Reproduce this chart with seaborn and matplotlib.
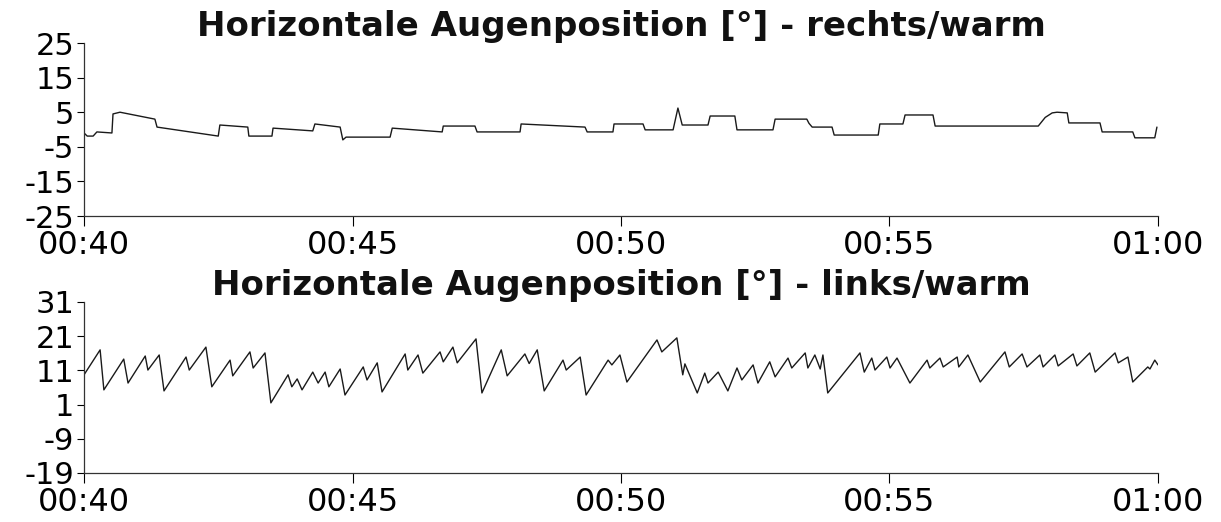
import matplotlib
matplotlib.use("Agg")
import matplotlib.pyplot as plt
import seaborn as sns
import pandas as pd

# ---- data (minutes after 00:40, degrees) ----
right_t = [0.00, 0.06, 0.17, 0.24, 0.52, 0.54, 0.67, 1.32, 1.36, 2.50, 2.53, 3.05, 3.07, 3.50,
           3.52, 4.26, 4.30, 4.77, 4.82, 4.88, 5.70, 5.74, 6.67, 6.69, 7.28, 7.32, 8.12, 8.14,
           9.33, 9.37, 9.85, 9.87, 10.41, 10.45, 10.97, 11.06, 11.14, 11.62, 11.66, 12.12, 12.16,
           12.83, 12.87, 13.46, 13.50, 13.56, 13.93, 13.97, 14.79, 14.82, 15.25, 15.29, 15.81,
           15.85, 17.77, 17.90, 18.03, 18.12, 18.31, 18.34, 18.92, 18.96, 19.53, 19.57, 19.94, 19.98]
right_v = [-1.0, -1.9, -1.9, -0.7, -1.0, 4.5, 5.0, 3.0, 0.7, -1.9, 1.3, 0.7, -1.9, -1.9,
           0.4, -0.4, 1.6, 0.7, -3.0, -2.2, -2.2, 0.4, -0.7, 1.0, 1.0, -0.7, -0.7, 1.6,
           0.7, -0.7, -0.7, 1.6, 1.6, -0.1, -0.1, 6.2, 1.3, 1.3, 3.9, 3.9, -0.1,
           -0.1, 3.0, 3.0, 1.8, 0.7, 0.7, -1.6, -1.6, 1.6, 1.6, 4.2, 4.2,
           1.0, 1.0, 3.5, 4.8, 5.0, 4.8, 1.9, 1.9, -0.7, -0.7, -2.4, -2.4, 0.7]

left_t = [0.00, 0.30, 0.37, 0.74, 0.82, 1.14, 1.19, 1.40, 1.49, 1.90, 1.96, 2.27, 2.38, 2.72,
          2.77, 3.09, 3.15, 3.37, 3.48, 3.80, 3.87, 3.97, 4.06, 4.26, 4.36, 4.49, 4.56, 4.77,
          4.86, 5.20, 5.27, 5.46, 5.55, 5.98, 6.03, 6.22, 6.31, 6.63, 6.69, 6.87, 6.95, 7.30,
          7.41, 7.77, 7.88, 8.21, 8.29, 8.44, 8.57, 8.92, 8.98, 9.24, 9.35, 9.76, 9.83, 9.98,
          10.11, 10.67, 10.76, 11.04, 11.15, 11.19, 11.42, 11.56, 11.62, 11.81, 11.99, 12.16,
          12.25, 12.46, 12.55, 12.77, 12.87, 13.11, 13.18, 13.43, 13.48, 13.61, 13.71, 13.76,
          13.85, 14.45, 14.53, 14.67, 14.73, 14.95, 15.01, 15.14, 15.38, 15.70, 15.75, 15.94,
          16.00, 16.26, 16.29, 16.46, 16.69, 17.15, 17.23, 17.47, 17.56, 17.80, 17.86, 18.08,
          18.14, 18.42, 18.49, 18.73, 18.83, 19.20, 19.26, 19.44, 19.53, 19.81, 19.85, 19.94, 20.00]
left_v = [9.7, 17.0, 5.3, 14.3, 7.3, 15.2, 11.1, 15.5, 5.0, 14.9, 11.1, 17.8, 6.2, 14.0,
          9.4, 16.4, 11.7, 16.1, 1.5, 9.7, 6.2, 8.5, 5.3, 10.5, 7.3, 10.5, 6.2, 11.4,
          3.8, 12.0, 8.2, 13.2, 4.7, 15.8, 11.1, 15.5, 10.2, 16.4, 13.5, 17.8, 13.2, 20.2,
          4.4, 17.0, 9.4, 15.8, 13.0, 17.0, 5.0, 14.0, 11.1, 14.9, 3.8, 14.0, 12.6, 15.5,
          7.6, 19.9, 16.4, 20.5, 9.7, 12.9, 4.4, 10.2, 7.3, 10.5, 5.0, 11.7,
          8.2, 12.6, 7.3, 13.5, 9.1, 14.6, 11.7, 16.1, 11.7, 15.5, 11.4, 15.5,
          4.4, 16.1, 10.5, 14.6, 11.1, 14.9, 11.7, 14.6, 7.3, 14.0, 11.7, 14.6,
          12.0, 14.9, 12.0, 15.5, 7.6, 16.4, 12.0, 15.8, 12.0, 15.5, 12.0, 15.5,
          12.3, 15.8, 12.3, 16.1, 10.5, 16.1, 13.2, 14.9, 7.6, 12.0, 11.4, 14.0, 12.6]

x_ticks = [40, 45, 50, 55, 60]
x_labels = ["00:40", "00:45", "00:50", "00:55", "01:00"]
right_yticks = [-25, -15, -5, 5, 15, 25]
left_yticks = [-19, -9, 1, 11, 21, 31]
titles = ["Horizontale Augenposition [°] - rechts/warm",
          "Horizontale Augenposition [°] - links/warm"]

sns.set_style("ticks")
plt.rcParams["font.family"] = ["DejaVu Sans"]
plt.rcParams["axes.unicode_minus"] = False

fig = plt.figure(figsize=(12.21, 5.22), dpi=100)
ax1 = fig.add_axes([0.0688, 0.5862, 0.8796, 0.3314])
ax2 = fig.add_axes([0.0688, 0.0939, 0.8796, 0.3276])

panels = [
    (ax1, right_t, right_v, right_yticks, titles[0]),
    (ax2, left_t, left_v, left_yticks, titles[1]),
]
for ax, t, v, yt, title in panels:
    df = pd.DataFrame({"t": [40 + x for x in t], "v": v})
    sns.lineplot(data=df, x="t", y="v", ax=ax, color="#1a1a1a", linewidth=1.0,
                 sort=False, estimator=None)
    ax.set_xlim(40, 60)
    ax.set_ylim(yt[0], yt[-1])
    ax.set_xticks(x_ticks)
    ax.set_xticklabels(x_labels)
    ax.set_yticks(yt)
    ax.set_yticklabels([str(y) for y in yt])
    ax.set_xlabel("")
    ax.set_ylabel("")
    ax.tick_params(axis="y", labelsize=22, length=5, width=0.8, pad=2, colors="black")
    ax.tick_params(axis="x", labelsize=23, length=7, width=0.8, pad=3, colors="black")
    sns.despine(ax=ax)
    for s in ("left", "bottom"):
        ax.spines[s].set_linewidth(0.9)
        ax.spines[s].set_color("#333333")
    ax.set_title(title, fontsize=24.5, fontweight="bold", pad=4, color="#111111")
    ax.set_facecolor("white")

fig.savefig("out.png", dpi=100, facecolor="white")
